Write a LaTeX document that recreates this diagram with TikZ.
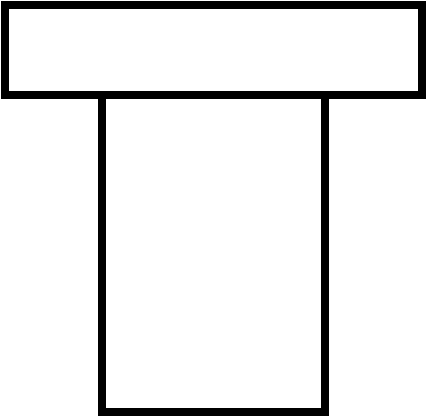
\documentclass[tikz,border=0pt]{standalone}
\begin{document}
\begin{tikzpicture}[x = 1pt, y = -1pt, line width = 8pt]
            \useasboundingbox (0, 0) rectangle (426, 417);
            \draw (102, 95) rectangle (324.5, 411.5);
            \draw (4.5, 5) rectangle (421.5, 95);
        \end{tikzpicture}
\end{document}
